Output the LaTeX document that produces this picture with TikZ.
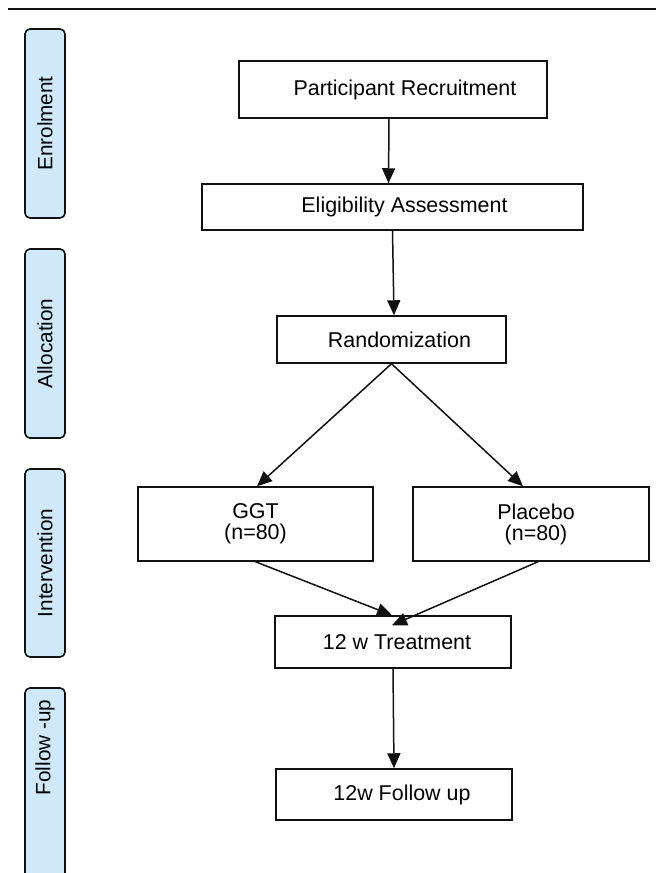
\documentclass[tikz,border=0pt]{standalone}
\usepackage{fontspec}
\setmainfont{Liberation Sans}
\usepackage{tikz}
\usetikzlibrary{arrows.meta,positioning,calc}
\definecolor{ink}{HTML}{111111}
\definecolor{phasebg}{HTML}{CFE8FA}
\tikzset{
  stage/.style={draw=ink,line width=0.85pt,inner sep=0pt,align=center,
                font=\fontsize{12.2}{12}\selectfont},
  phase/.style={draw=ink,fill=phasebg,line width=0.9pt,rounded corners=2.8pt,
                rotate=90,minimum height=0.8cm,inner sep=0pt,
                font=\fontsize{11.8}{12}\selectfont},
  flow/.style={-{Triangle[length=0.3cm,width=0.26cm]},line width=0.85pt,ink},
}

\begin{document}
\begin{tikzpicture}
  \clip(0,0)rectangle(13.12,-17.46);
  \draw[ink,line width=1.5pt](0.16,-0.18)--(13.12,-0.18);
  % phases on the left
  \node[phase,minimum width=3.78cm](enrol)at(0.9,-2.47){Enrolment};
  \node[phase,minimum width=3.78cm](alloc)at(0.9,-6.87){Allocation};
  \node[phase,minimum width=3.76cm](interv)at(0.9,-11.26){Intervention};
  \node[phase,minimum width=4.24cm](fupbar)at(0.9,-15.88){};
  \node[rotate=90,font=\fontsize{11.8}{12}\selectfont](fuplab)at(0.9,-14.95)
    {Follow -up};
  % trial flow
  \node[stage,minimum width=6.16cm,minimum height=1.14cm](recruit)
    at(7.86,-1.79){\hspace*{0.48cm}Participant Recruitment};
  \node[stage,minimum width=7.62cm,minimum height=0.92cm](elig)
    at(7.85,-4.14){\hspace*{0.48cm}Eligibility Assessment};
  \node[stage,minimum width=4.58cm,minimum height=0.94cm](random)
    at(7.83,-6.79){\hspace*{0.32cm}Randomization};
  \node[stage,minimum width=4.70cm,minimum height=1.48cm](ggt)
    at(5.11,-10.48){GGT\\(n=80)};
  \node[stage,minimum width=4.72cm,minimum height=1.48cm](placebo)
    at(10.62,-10.48){\hspace*{0.2cm}Placebo\\\hspace*{0.2cm}(n=80)};
  \node[stage,minimum width=4.72cm,minimum height=1.04cm](treat)
    at(7.86,-12.84){\hspace*{0.16cm}12 w Treatment};
  \node[stage,minimum width=4.72cm,minimum height=1.02cm](follow)
    at(7.88,-15.89){\hspace*{0.32cm}12w Follow up};
  \draw[flow]([xshift=-0.08cm]recruit.south)--([xshift=-0.08cm]elig.north);
  \draw[flow](elig.south)--([xshift=0.05cm]random.north);
  \draw[flow](random.south)--([xshift=0.03cm]ggt.north);
  \draw[flow](random.south)--([xshift=-0.16cm]placebo.north);
  \draw[flow](ggt.south)--([xshift=-0.02cm]treat.north);
  \draw[flow]([xshift=0.14cm]placebo.south)
    --([xshift=-0.02cm,yshift=-0.2cm]treat.north);
  \draw[flow](treat.south)--(follow.north);
\end{tikzpicture}
\end{document}
